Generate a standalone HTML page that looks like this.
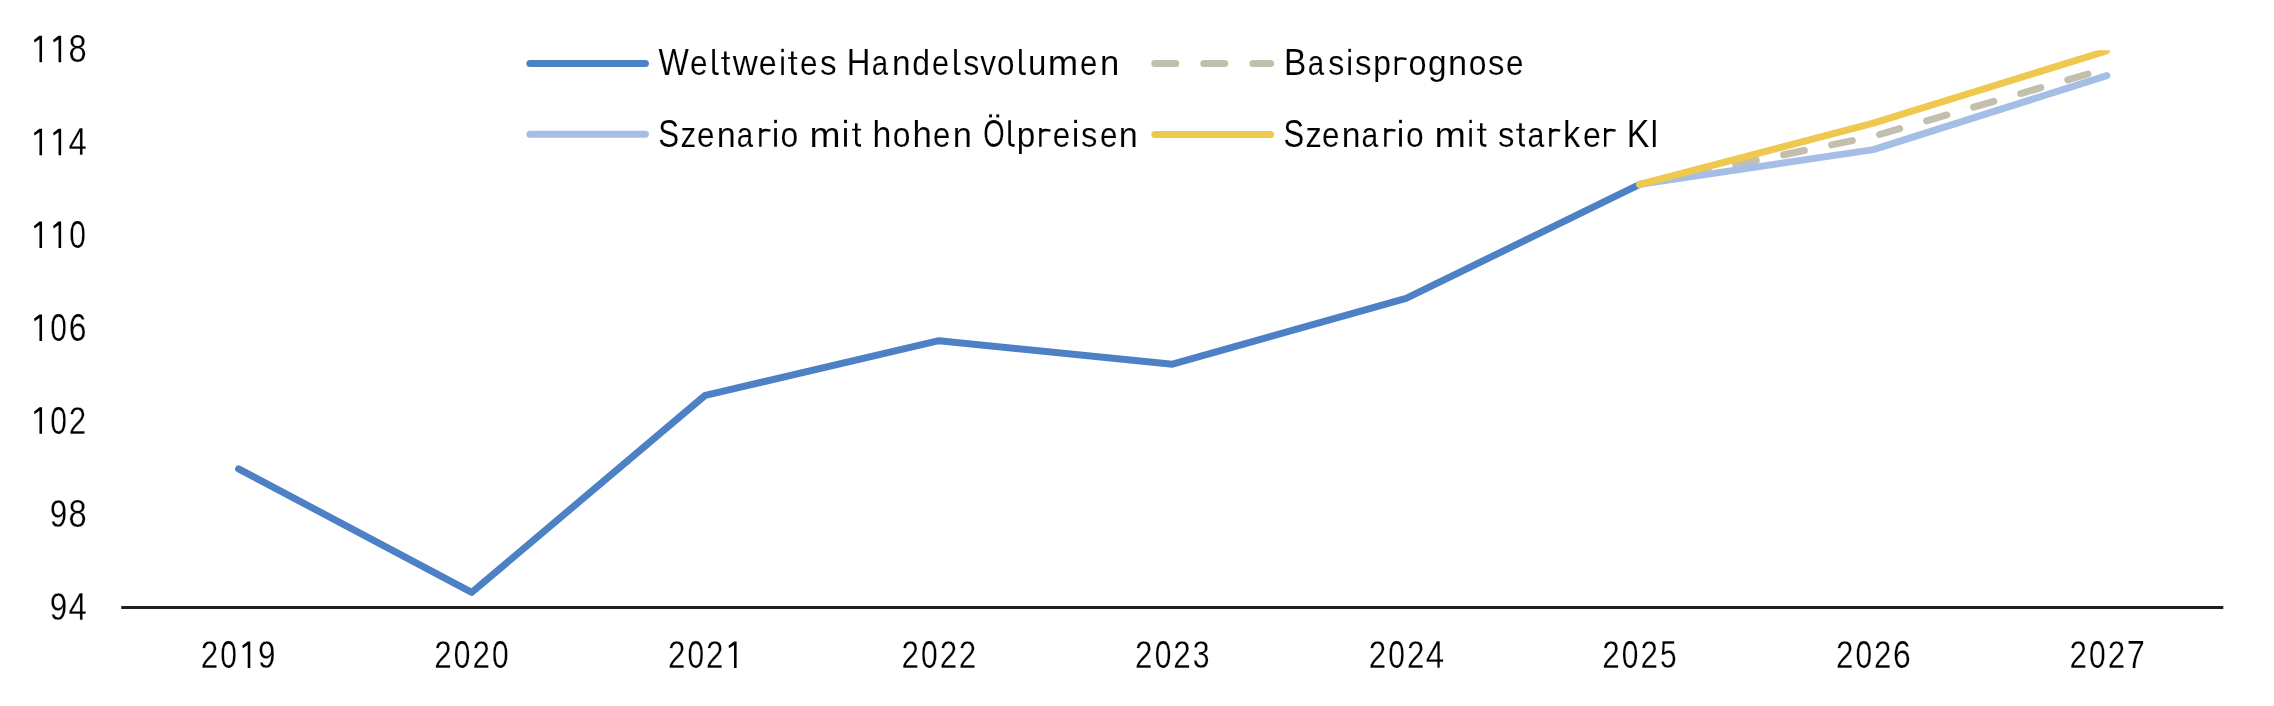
<!DOCTYPE html>
<html>
<head>
<meta charset="utf-8">
<style>
html,body{margin:0;padding:0;background:#fff;width:2274px;height:706px;overflow:hidden;}
svg{display:block;will-change:transform;}
text{font-family:"Liberation Sans",sans-serif;stroke:#fff;stroke-width:0.1px;}
text.d{stroke-width:0.25px;}
</style>
</head>
<body>
<svg width="2274" height="706" viewBox="0 0 2274 706">
<defs>
<clipPath id="plot"><rect x="0" y="50.2" width="2274" height="600"/></clipPath>
</defs>
<rect width="2274" height="706" fill="#fff"/>
<g fill="#000">
<polygon points="42.05,35.82 42.05,62.32 39.45,62.32 39.45,39.32 34.65,42.62 33.95,40.12 39.45,35.82"/>
<polygon points="61.15,35.82 61.15,62.32 58.55,62.32 58.55,39.32 53.75,42.62 53.05,40.12 58.55,35.82"/>
<text class="d" transform="matrix(0.8536 0 0 1.0000 68.53 62.32)" font-size="38.2">8</text>
<polygon points="42.05,128.70 42.05,155.20 39.45,155.20 39.45,132.20 34.65,135.50 33.95,133.00 39.45,128.70"/>
<polygon points="61.15,128.70 61.15,155.20 58.55,155.20 58.55,132.20 53.75,135.50 53.05,133.00 58.55,128.70"/>
<text class="d" transform="matrix(0.8624 0 0 1.0000 68.54 155.20)" font-size="38.2">4</text>
<polygon points="42.05,221.58 42.05,248.08 39.45,248.08 39.45,225.08 34.65,228.38 33.95,225.88 39.45,221.58"/>
<polygon points="61.15,221.58 61.15,248.08 58.55,248.08 58.55,225.08 53.75,228.38 53.05,225.88 58.55,221.58"/>
<text class="d" transform="matrix(0.7831 0 0 1.0000 69.28 248.08)" font-size="38.2">0</text>
<polygon points="42.05,314.46 42.05,340.96 39.45,340.96 39.45,317.96 34.65,321.26 33.95,318.76 39.45,314.46"/>
<text class="d" transform="matrix(0.7831 0 0 1.0000 50.18 340.96)" font-size="38.2">0</text>
<text class="d" transform="matrix(0.8340 0 0 1.0000 68.63 340.96)" font-size="38.2">6</text>
<polygon points="42.05,407.34 42.05,433.84 39.45,433.84 39.45,410.84 34.65,414.14 33.95,411.64 39.45,407.34"/>
<text class="d" transform="matrix(0.7831 0 0 1.0000 50.18 433.84)" font-size="38.2">0</text>
<text class="d" transform="matrix(0.8217 0 0 1.0000 68.87 433.84)" font-size="38.2">2</text>
<text class="d" transform="matrix(0.8218 0 0 1.0000 49.78 526.72)" font-size="38.2">9</text>
<text class="d" transform="matrix(0.8536 0 0 1.0000 68.53 526.72)" font-size="38.2">8</text>
<text class="d" transform="matrix(0.8218 0 0 1.0000 49.78 619.60)" font-size="38.2">9</text>
<text class="d" transform="matrix(0.8624 0 0 1.0000 68.54 619.60)" font-size="38.2">4</text>
<text class="d" transform="matrix(0.8217 0 0 1.0000 200.72 667.90)" font-size="38.2">2</text>
<text class="d" transform="matrix(0.7831 0 0 1.0000 220.23 667.90)" font-size="38.2">0</text>
<polygon points="250.30,641.40 250.30,667.90 247.70,667.90 247.70,644.90 242.90,648.20 242.20,645.70 247.70,641.40"/>
<text class="d" transform="matrix(0.8218 0 0 1.0000 258.03 667.90)" font-size="38.2">9</text>
<text class="d" transform="matrix(0.8217 0 0 1.0000 434.32 667.90)" font-size="38.2">2</text>
<text class="d" transform="matrix(0.7831 0 0 1.0000 453.83 667.90)" font-size="38.2">0</text>
<text class="d" transform="matrix(0.8217 0 0 1.0000 472.52 667.90)" font-size="38.2">2</text>
<text class="d" transform="matrix(0.7831 0 0 1.0000 492.03 667.90)" font-size="38.2">0</text>
<text class="d" transform="matrix(0.8217 0 0 1.0000 667.92 667.90)" font-size="38.2">2</text>
<text class="d" transform="matrix(0.7831 0 0 1.0000 687.43 667.90)" font-size="38.2">0</text>
<text class="d" transform="matrix(0.8217 0 0 1.0000 706.12 667.90)" font-size="38.2">2</text>
<polygon points="736.60,641.40 736.60,667.90 734.00,667.90 734.00,644.90 729.20,648.20 728.50,645.70 734.00,641.40"/>
<text class="d" transform="matrix(0.8217 0 0 1.0000 901.52 667.90)" font-size="38.2">2</text>
<text class="d" transform="matrix(0.7831 0 0 1.0000 921.03 667.90)" font-size="38.2">0</text>
<text class="d" transform="matrix(0.8217 0 0 1.0000 939.72 667.90)" font-size="38.2">2</text>
<text class="d" transform="matrix(0.8217 0 0 1.0000 958.82 667.90)" font-size="38.2">2</text>
<text class="d" transform="matrix(0.8217 0 0 1.0000 1135.12 667.90)" font-size="38.2">2</text>
<text class="d" transform="matrix(0.7831 0 0 1.0000 1154.63 667.90)" font-size="38.2">0</text>
<text class="d" transform="matrix(0.8217 0 0 1.0000 1173.32 667.90)" font-size="38.2">2</text>
<text class="d" transform="matrix(0.7896 0 0 1.0000 1192.85 667.90)" font-size="38.2">3</text>
<text class="d" transform="matrix(0.8217 0 0 1.0000 1368.72 667.90)" font-size="38.2">2</text>
<text class="d" transform="matrix(0.7831 0 0 1.0000 1388.23 667.90)" font-size="38.2">0</text>
<text class="d" transform="matrix(0.8217 0 0 1.0000 1406.92 667.90)" font-size="38.2">2</text>
<text class="d" transform="matrix(0.8624 0 0 1.0000 1425.69 667.90)" font-size="38.2">4</text>
<text class="d" transform="matrix(0.8217 0 0 1.0000 1602.32 667.90)" font-size="38.2">2</text>
<text class="d" transform="matrix(0.7831 0 0 1.0000 1621.83 667.90)" font-size="38.2">0</text>
<text class="d" transform="matrix(0.8217 0 0 1.0000 1640.52 667.90)" font-size="38.2">2</text>
<text class="d" transform="matrix(0.7840 0 0 1.0000 1660.05 667.90)" font-size="38.2">5</text>
<text class="d" transform="matrix(0.8217 0 0 1.0000 1835.92 667.90)" font-size="38.2">2</text>
<text class="d" transform="matrix(0.7831 0 0 1.0000 1855.43 667.90)" font-size="38.2">0</text>
<text class="d" transform="matrix(0.8217 0 0 1.0000 1874.12 667.90)" font-size="38.2">2</text>
<text class="d" transform="matrix(0.8340 0 0 1.0000 1892.98 667.90)" font-size="38.2">6</text>
<text class="d" transform="matrix(0.8217 0 0 1.0000 2069.52 667.90)" font-size="38.2">2</text>
<text class="d" transform="matrix(0.7831 0 0 1.0000 2089.03 667.90)" font-size="38.2">0</text>
<text class="d" transform="matrix(0.8217 0 0 1.0000 2107.72 667.90)" font-size="38.2">2</text>
<text class="d" transform="matrix(0.8523 0 0 1.0000 2126.78 667.90)" font-size="38.2">7</text>
<text transform="matrix(0.8507 0 0 1.0000 658.56 75.10)" font-size="37.8">W</text>
<text transform="matrix(0.9063 0 0 1.0000 689.96 75.10)" font-size="34.8">e</text>
<path d="M713.60,49.10V70.50Q713.60,73.80 716.70,73.80H718.60" fill="none" stroke="#000" stroke-width="2.6"/>
<path d="M725.35,51.60V70.50Q725.35,73.85 728.35,73.85H729.90" fill="none" stroke="#000" stroke-width="2.5"/><rect x="721.20" y="57.20" width="8.70" height="1.7" fill="#000"/>
<text transform="matrix(0.9934 0 0 1.0000 732.85 75.10)" font-size="34.8">w</text>
<text transform="matrix(0.9247 0 0 1.0000 758.63 75.10)" font-size="34.8">e</text>
<rect x="781.30" y="56.50" width="2.50" height="18.6" fill="#000"/><rect x="781.30" y="48.80" width="2.50" height="3.3" fill="#000"/>
<path d="M792.35,51.60V70.50Q792.35,73.85 795.35,73.85H797.20" fill="none" stroke="#000" stroke-width="2.5"/><rect x="788.20" y="57.20" width="9.00" height="1.7" fill="#000"/>
<text transform="matrix(0.9063 0 0 1.0000 800.06 75.10)" font-size="34.8">e</text>
<text transform="matrix(0.9556 0 0 1.0000 820.07 75.10)" font-size="34.8">s</text>
<text transform="matrix(0.8667 0 0 1.0000 846.81 75.10)" font-size="37.8">H</text>
<text transform="matrix(0.8468 0 0 1.0000 871.65 75.10)" font-size="34.8">a</text>
<text transform="matrix(0.9605 0 0 1.0000 892.08 75.10)" font-size="34.8">n</text>
<text transform="matrix(0.8882 0 0 1.0000 912.16 75.10)" font-size="35.8">d</text>
<text transform="matrix(0.8757 0 0 1.0000 932.01 75.10)" font-size="34.8">e</text>
<path d="M955.50,49.10V70.50Q955.50,73.80 958.60,73.80H960.50" fill="none" stroke="#000" stroke-width="2.6"/>
<text transform="matrix(0.9226 0 0 1.0000 963.31 75.10)" font-size="34.8">s</text>
<text transform="matrix(0.9032 0 0 1.0000 980.19 75.10)" font-size="34.8">v</text>
<text transform="matrix(0.9007 0 0 1.0000 996.88 75.10)" font-size="34.8">o</text>
<path d="M1020.40,49.10V70.50Q1020.40,73.80 1023.50,73.80H1025.70" fill="none" stroke="#000" stroke-width="2.6"/>
<text transform="matrix(0.9470 0 0 1.0000 1027.96 75.10)" font-size="34.8">u</text>
<text transform="matrix(1.0499 0 0 1.0000 1047.77 75.10)" font-size="34.8">m</text>
<text transform="matrix(0.8941 0 0 1.0000 1080.08 75.10)" font-size="34.8">e</text>
<text transform="matrix(0.9944 0 0 1.0000 1099.90 75.10)" font-size="34.8">n</text>
<text transform="matrix(0.8272 0 0 1.0220 658.28 146.70)" font-size="37.8">S</text>
<text transform="matrix(0.9049 0 0 1.0000 680.62 146.70)" font-size="34.8">z</text>
<text transform="matrix(0.9002 0 0 1.0000 696.97 146.70)" font-size="34.8">e</text>
<text transform="matrix(0.9808 0 0 1.0000 716.83 146.70)" font-size="34.8">n</text>
<text transform="matrix(0.8468 0 0 1.0000 736.85 146.70)" font-size="34.8">a</text>
<path d="M760.40,128.10V146.70M760.40,133.50C761.60,129.70 765.40,129.30 770.40,130.70" fill="none" stroke="#000" stroke-width="2.4"/>
<rect x="774.20" y="128.10" width="2.70" height="18.6" fill="#000"/><rect x="774.20" y="119.82" width="2.70" height="3.3" fill="#000"/>
<text transform="matrix(0.9129 0 0 1.0000 780.57 146.70)" font-size="34.8">o</text>
<text transform="matrix(1.0704 0 0 1.0000 809.53 146.70)" font-size="34.8">m</text>
<rect x="844.10" y="128.10" width="2.80" height="18.6" fill="#000"/><rect x="844.10" y="119.82" width="2.80" height="3.3" fill="#000"/>
<path d="M856.25,123.20V142.10Q856.25,145.45 859.25,145.45H861.00" fill="none" stroke="#000" stroke-width="2.5"/><rect x="852.10" y="128.80" width="8.90" height="1.7" fill="#000"/>
<text transform="matrix(0.9468 0 0 1.0220 872.45 146.70)" font-size="35.8">h</text>
<text transform="matrix(0.9129 0 0 1.0000 892.87 146.70)" font-size="34.8">o</text>
<text transform="matrix(0.9733 0 0 1.0220 912.48 146.70)" font-size="35.8">h</text>
<text transform="matrix(0.8941 0 0 1.0000 933.08 146.70)" font-size="34.8">e</text>
<text transform="matrix(0.9876 0 0 1.0000 952.82 146.70)" font-size="34.8">n</text>
<text transform="matrix(0.7247 0 0 1.0220 983.20 146.70)" font-size="37.8">O</text>
<rect x="989.10" y="114.40" width="2.9" height="3.0" fill="#000"/>
<rect x="996.30" y="114.40" width="2.9" height="3.0" fill="#000"/>
<path d="M1009.60,120.13V142.10Q1009.60,145.40 1012.70,145.40H1014.60" fill="none" stroke="#000" stroke-width="2.6"/>
<text transform="matrix(0.9585 0 0 1.0000 1016.85 146.70)" font-size="34.8">p</text>
<path d="M1040.40,128.10V146.70M1040.40,133.50C1041.60,129.70 1045.40,129.30 1050.50,130.70" fill="none" stroke="#000" stroke-width="2.4"/>
<text transform="matrix(0.9002 0 0 1.0000 1052.87 146.70)" font-size="34.8">e</text>
<rect x="1074.20" y="128.10" width="2.80" height="18.6" fill="#000"/><rect x="1074.20" y="119.82" width="2.80" height="3.3" fill="#000"/>
<text transform="matrix(0.9424 0 0 1.0000 1080.99 146.70)" font-size="34.8">s</text>
<text transform="matrix(0.9002 0 0 1.0000 1099.97 146.70)" font-size="34.8">e</text>
<text transform="matrix(0.9808 0 0 1.0000 1118.83 146.70)" font-size="34.8">n</text>
<text transform="matrix(0.8848 0 0 1.0000 1283.96 75.10)" font-size="37.8">B</text>
<text transform="matrix(0.8468 0 0 1.0000 1307.75 75.10)" font-size="34.8">a</text>
<text transform="matrix(0.9226 0 0 1.0000 1328.21 75.10)" font-size="34.8">s</text>
<rect x="1348.40" y="56.50" width="2.50" height="18.6" fill="#000"/><rect x="1348.40" y="48.80" width="2.50" height="3.3" fill="#000"/>
<text transform="matrix(0.9490 0 0 1.0000 1354.88 75.10)" font-size="34.8">s</text>
<text transform="matrix(0.9137 0 0 1.0000 1373.25 75.10)" font-size="34.8">p</text>
<path d="M1395.90,56.50V75.10M1395.90,61.90C1397.10,58.10 1400.90,57.70 1406.50,59.10" fill="none" stroke="#000" stroke-width="2.4"/>
<text transform="matrix(0.9311 0 0 1.0000 1408.54 75.10)" font-size="34.8">o</text>
<text transform="matrix(0.9585 0 0 1.0000 1427.90 75.10)" font-size="34.8">g</text>
<text transform="matrix(0.9876 0 0 1.0000 1448.12 75.10)" font-size="34.8">n</text>
<text transform="matrix(0.9129 0 0 1.0000 1468.77 75.10)" font-size="34.8">o</text>
<text transform="matrix(0.9424 0 0 1.0000 1487.99 75.10)" font-size="34.8">s</text>
<text transform="matrix(0.9002 0 0 1.0000 1506.07 75.10)" font-size="34.8">e</text>
<text transform="matrix(0.8180 0 0 1.0220 1283.40 146.70)" font-size="37.8">S</text>
<text transform="matrix(0.9399 0 0 1.0000 1305.47 146.70)" font-size="34.8">z</text>
<text transform="matrix(0.9002 0 0 1.0000 1321.97 146.70)" font-size="34.8">e</text>
<text transform="matrix(0.9673 0 0 1.0000 1341.86 146.70)" font-size="34.8">n</text>
<text transform="matrix(0.8649 0 0 1.0000 1361.62 146.70)" font-size="34.8">a</text>
<path d="M1385.40,128.10V146.70M1385.40,133.50C1386.60,129.70 1390.40,129.30 1395.50,130.70" fill="none" stroke="#000" stroke-width="2.4"/>
<rect x="1399.10" y="128.10" width="2.80" height="18.6" fill="#000"/><rect x="1399.10" y="119.82" width="2.80" height="3.3" fill="#000"/>
<text transform="matrix(0.9129 0 0 1.0000 1405.97 146.70)" font-size="34.8">o</text>
<text transform="matrix(1.0827 0 0 1.0000 1434.50 146.70)" font-size="34.8">m</text>
<rect x="1469.40" y="128.10" width="2.40" height="18.6" fill="#000"/><rect x="1469.40" y="119.82" width="2.40" height="3.3" fill="#000"/>
<path d="M1481.25,123.20V142.10Q1481.25,145.45 1484.25,145.45H1486.40" fill="none" stroke="#000" stroke-width="2.5"/><rect x="1477.10" y="128.80" width="9.30" height="1.7" fill="#000"/>
<text transform="matrix(0.9424 0 0 1.0000 1497.89 146.70)" font-size="34.8">s</text>
<path d="M1520.45,123.20V142.10Q1520.45,145.45 1523.45,145.45H1524.90" fill="none" stroke="#000" stroke-width="2.5"/><rect x="1516.30" y="128.80" width="8.60" height="1.7" fill="#000"/>
<text transform="matrix(0.8710 0 0 1.0000 1527.51 146.70)" font-size="34.8">a</text>
<path d="M1550.40,128.10V146.70M1550.40,133.50C1551.60,129.70 1555.40,129.30 1560.20,130.70" fill="none" stroke="#000" stroke-width="2.4"/>
<text transform="matrix(0.9588 0 0 1.0220 1562.89 146.70)" font-size="35.8">k</text>
<text transform="matrix(0.9186 0 0 1.0000 1582.94 146.70)" font-size="34.8">e</text>
<path d="M1605.20,128.10V146.70M1605.20,133.50C1606.40,129.70 1610.20,129.30 1615.60,130.70" fill="none" stroke="#000" stroke-width="2.4"/>
<text transform="matrix(0.8992 0 0 1.0220 1626.71 146.70)" font-size="37.8">K</text>
<text transform="matrix(0.8226 0 0 1.0220 1649.93 146.70)" font-size="37.8">I</text>
</g>
<line x1="121.3" y1="607.5" x2="2223.3" y2="607.5" stroke="#1f1f1f" stroke-width="3"/>
<g fill="none" stroke-width="7" stroke-linecap="round" stroke-linejoin="round" clip-path="url(#plot)">
<polyline stroke="#4d80c5" points="238.6,468.8 471.7,592.4 705.3,395.3 938.9,340.7 1172.5,364.2 1406.1,298.4 1639.7,184.4"/>
<polyline stroke="#c2bfaf" stroke-dasharray="21 28" points="1639.7,184.4 1873.3,136.3 2106.9,68.5"/>
<polyline stroke="#a5bee5" points="1639.7,184.4 1873.3,149.6 2106.9,75.7"/>
<polyline stroke="#efc84f" points="1639.7,184.4 1873.3,123.1 2106.4,51.0"/>
</g>
<g stroke-width="7" stroke-linecap="round">
<line x1="529.9" y1="63.4" x2="645.4" y2="63.4" stroke="#4d80c5"/>
<line x1="529.9" y1="134.3" x2="645.4" y2="134.3" stroke="#a5bee5"/>
<line x1="1154.8" y1="63.4" x2="1270.6" y2="63.4" stroke="#c2bfaf" stroke-dasharray="21 28"/>
<line x1="1154.8" y1="134.6" x2="1270.6" y2="134.6" stroke="#efc84f"/>
</g>
</svg>
</body>
</html>
